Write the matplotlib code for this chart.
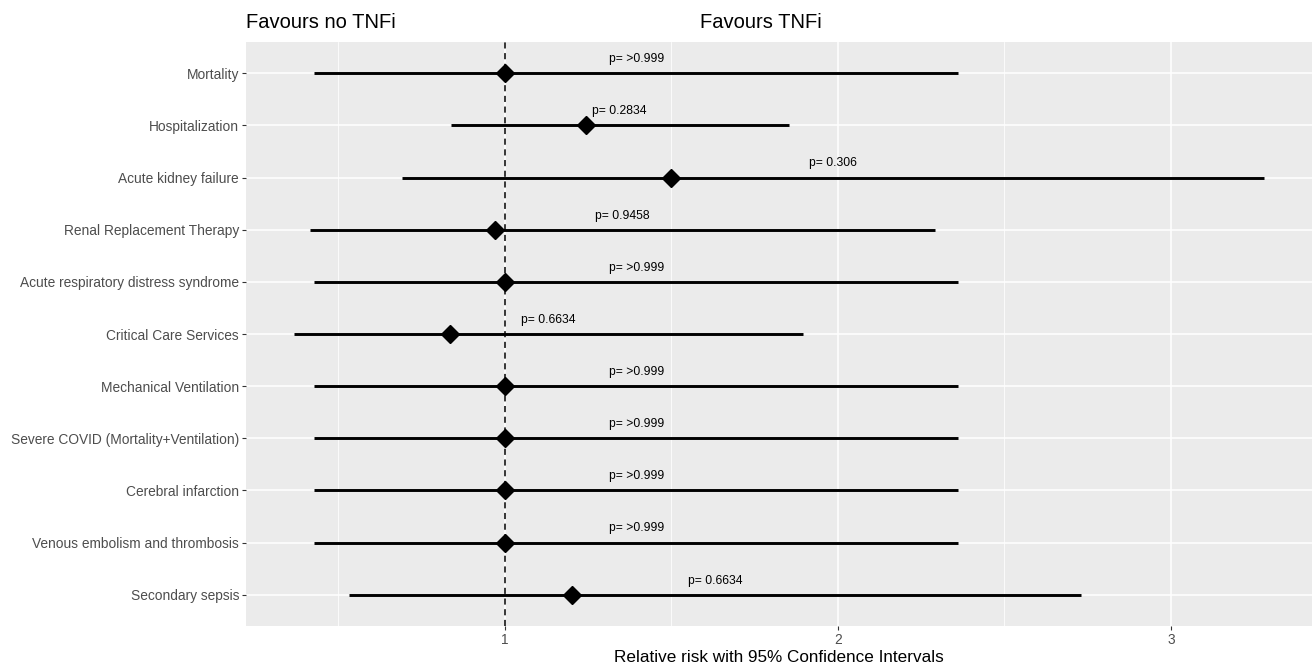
import matplotlib
matplotlib.use("Agg")
import matplotlib.pyplot as plt
import numpy as np

plt.rcParams['font.family'] = ['Liberation Sans', 'DejaVu Sans']

outcomes = ['Mortality', 'Hospitalization', 'Acute kidney failure',
            'Renal Replacement Therapy', 'Acute respiratory distress syndrome',
            'Critical Care Services', 'Mechanical Ventilation',
            'Severe COVID (Mortality+Ventilation)', 'Cerebral infarction',
            'Venous embolism and thrombosis', 'Secondary sepsis']
rr = [1.0, 1.243, 1.50, 0.97, 1.0, 0.835, 1.0, 1.0, 1.0, 1.0, 1.20]
lower = [0.428, 0.837, 0.69, 0.414, 0.428, 0.368, 0.428, 0.428, 0.428, 0.428, 0.532]
upper = [2.36, 1.852, 3.278, 2.29, 2.36, 1.894, 2.36, 2.36, 2.36, 2.36, 2.73]
pvals = ['>0.999', '0.2834', '0.306', '0.9458', '>0.999', '0.6634',
         '>0.999', '>0.999', '>0.999', '>0.999', '0.6634']

W, H = 1314, 667
fig = plt.figure(figsize=(W / 100, H / 100), dpi=100)
left, right, top, bottom = 246, 1312, 42, 626
ax = fig.add_axes([left / W, 1 - bottom / H, (right - left) / W, (bottom - top) / H])
ax.set_facecolor('#EBEBEB')

n = len(outcomes)
y = np.arange(n)[::-1] + 1  # Mortality at top

ax.hlines(y, lower, upper, color='black', lw=2.1, zorder=3)
ax.plot(rr, y, 'D', color='black', markersize=9, zorder=4)
ax.axvline(1, color='black', ls=(0, (4, 3)), lw=1.1, zorder=3)

for yi, lo, hi, p in zip(y, lower, upper, pvals):
    ax.text((lo + hi) / 2, yi + 0.27, 'p= ' + p, ha='center', va='center',
            fontsize=8.7, color='black', zorder=5)

span = max(upper) - min(lower)
ax.set_xlim(min(lower) - 0.05 * span, max(upper) + 0.05 * span)
ax.set_ylim(0.4, n + 0.6)

ax.set_xticks([1, 2, 3])
ax.set_xticks([0.5, 1.5, 2.5], minor=True)
ax.set_yticks(y)
ax.set_yticklabels(outcomes)
ax.grid(which='major', color='white', lw=1.1, zorder=0)
ax.grid(which='minor', axis='x', color='white', lw=0.55, zorder=0)
ax.set_axisbelow(True)
for s in ax.spines.values():
    s.set_visible(False)
ax.tick_params(which='major', length=3, width=0.8, color='#333333',
               labelcolor='#4D4D4D', labelsize=9.9, pad=2)
ax.tick_params(which='minor', length=0)

ax.set_xlabel('Relative risk with 95% Confidence Intervals', fontsize=12.3,
              color='black', labelpad=2)

fig.text(left / W, 1 - 28 / H, 'Favours no TNFi', fontsize=14.5,
         ha='left', va='baseline')
fig.text(700 / W, 1 - 28 / H, 'Favours TNFi', fontsize=14.5,
         ha='left', va='baseline')

fig.savefig('out.png', dpi=100)
